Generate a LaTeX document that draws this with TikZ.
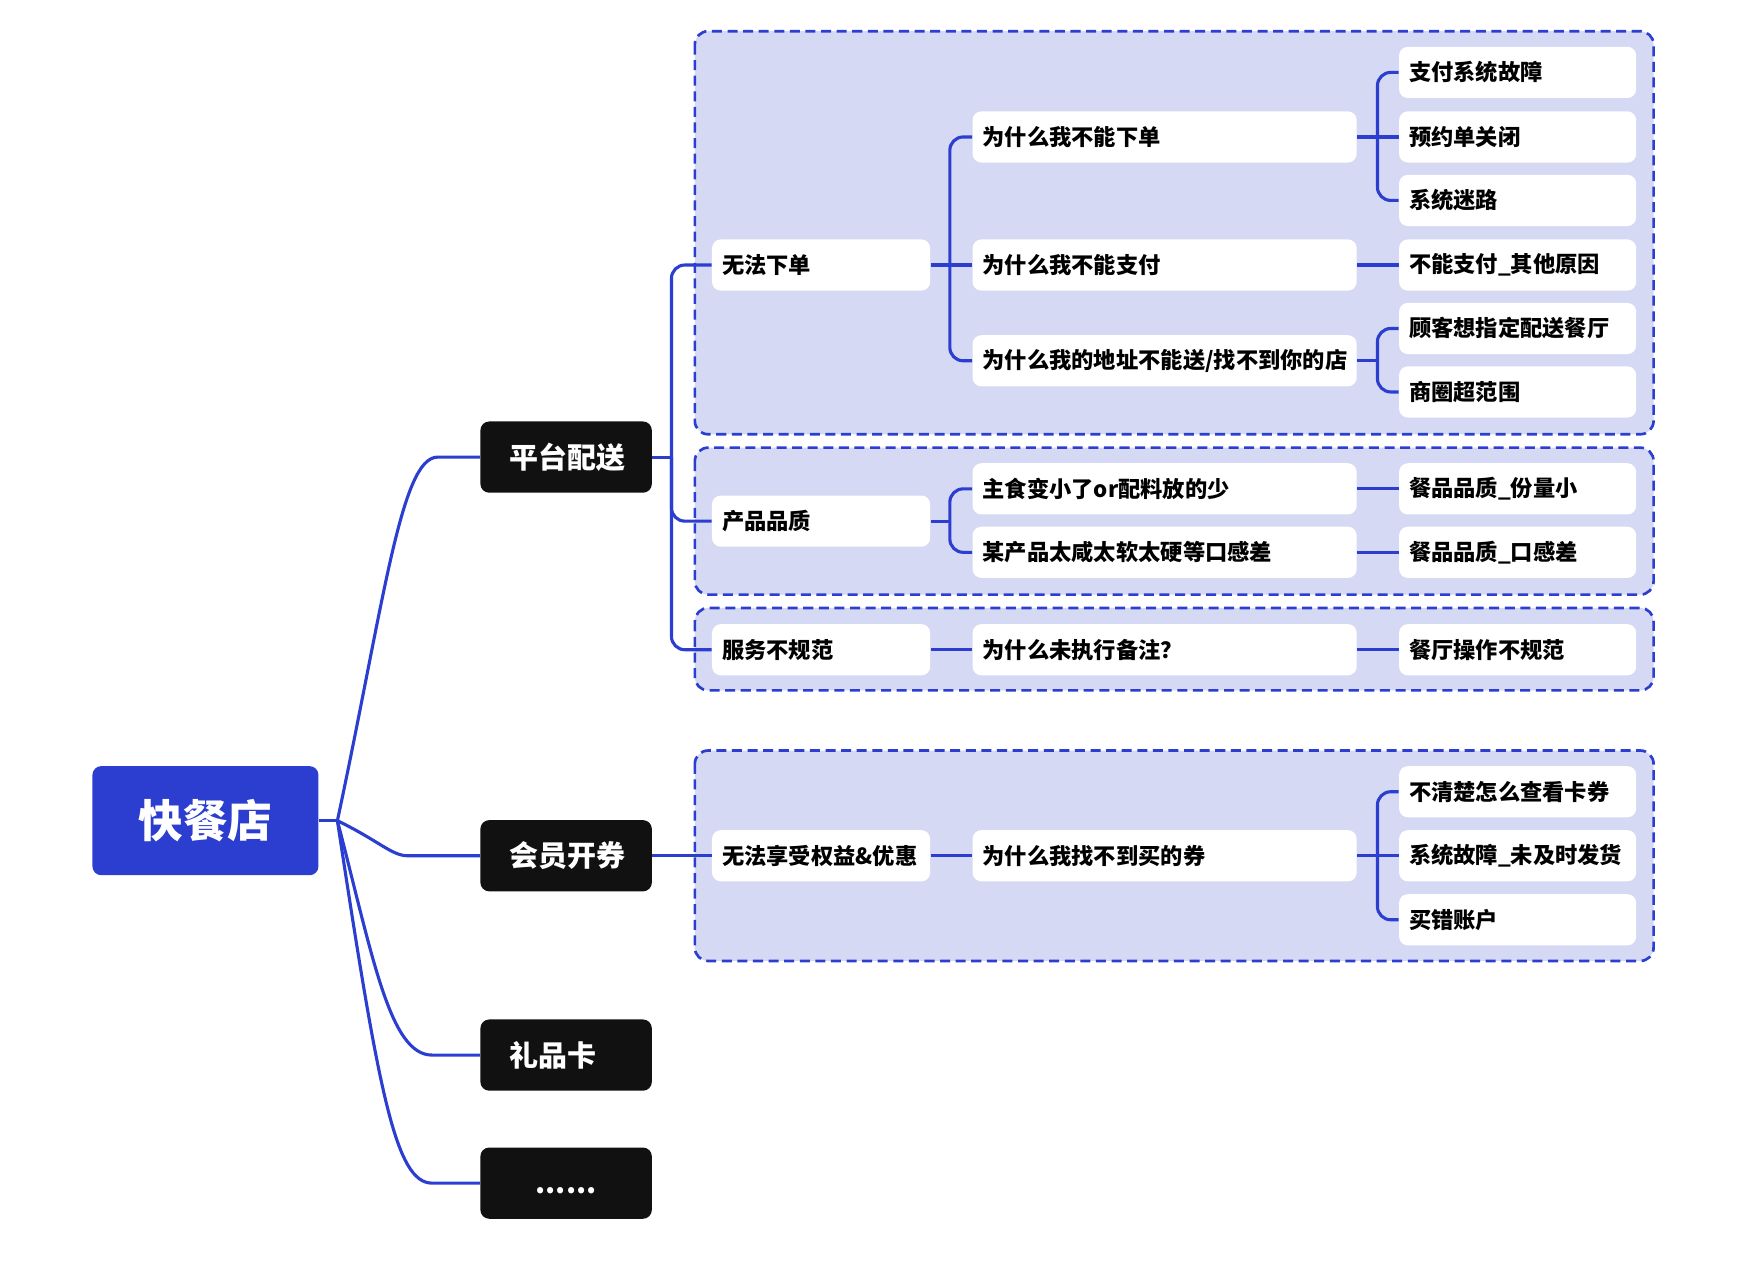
\documentclass[tikz,border=0pt]{standalone}
\usepackage{fontspec}
\setmainfont{Noto Sans CJK SC}[BoldFont={Noto Sans CJK SC Black}]
\usetikzlibrary{positioning}
\definecolor{mapblue}{RGB}{43,62,208}
\definecolor{mapblack}{RGB}{17,17,17}
\definecolor{grpfill}{RGB}{213,217,244}

\begin{document}
\begin{tikzpicture}[x=0.5pt,y=-0.5pt,
      rootbox/.style={fill=mapblue,rounded corners=4pt,text=white,minimum width=101.5pt,
                  minimum height=49pt,font=\bfseries\fontsize{20}{24}\selectfont},
      catbox/.style={fill=mapblack,rounded corners=4pt,text=white,anchor=west,inner xsep=13pt,
                  text width=51pt,minimum height=32pt,align=left,font=\bfseries\fontsize{13}{16}\selectfont},
      itembox/.style={fill=white,rounded corners=4pt,anchor=west,inner xsep=4.5pt,
                  minimum height=23pt,align=left,font=\bfseries\fontsize{10}{12}\selectfont},
      lvtwo/.style={itembox,text width=89pt},
      lvthree/.style={itembox,text width=163.5pt},
      lvfour/.style={itembox,text width=97.5pt},
      grp/.style={draw=mapblue,fill=grpfill,line width=1.2pt,dash pattern=on 4.5pt off 2.5pt,rounded corners=6pt},
      ln/.style={draw=mapblue,line width=1.4pt,rounded corners=6pt}]
    \useasboundingbox (0,0) rectangle (1568,1141);
    % dashed groups
    \draw[grp] (624,28) rectangle (1485,390);
    \draw[grp] (624,402) rectangle (1485,534);
    \draw[grp] (624,546) rectangle (1485,620);
    \draw[grp] (624,674) rectangle (1485,863);
    % root and categories
    \node[rootbox] (shop) at (184.5,737) {快餐店};
    \node[catbox] (plat) at (431,410.5) {平台配送};
    \node[catbox] (vip) at (431,768.5) {会员开券};
    \node[catbox] (gift) at (431,947.5) {礼品卡};
    \node[catbox,align=center] (more) at (431,1062.5) {\vphantom{平}......};
    % problems
    \node[lvtwo] (noord) at (639,238) {无法下单};
    \node[lvtwo] (qual) at (639,468) {产品品质};
    \node[lvtwo] (serv) at (639,583.5) {服务不规范};
    \node[lvtwo] (coupon) at (639,768.5) {无法享受权益\&优惠};
    % questions
    \node[lvthree] (whyord) at (873,123) {为什么我不能下单};
    \node[lvthree] (whypay) at (873,238) {为什么我不能支付};
    \node[lvthree] (whyaddr) at (873,324) {为什么我的地址不能送/找不到你的店};
    \node[lvthree] (smaller) at (873,439) {主食变小了or配料放的少};
    \node[lvthree] (taste) at (873,496) {某产品太咸太软太硬等口感差};
    \node[lvthree] (whynote) at (873,583.5) {为什么未执行备注？};
    \node[lvthree] (whycoupon) at (873,768.5) {为什么我找不到买的券};
    % causes
    \node[lvfour] (paysys) at (1256,65) {支付系统故障};
    \node[lvfour] (preclose) at (1256,123) {预约单关闭};
    \node[lvfour] (lost) at (1256,180) {系统迷路};
    \node[lvfour] (payother) at (1256,238) {不能支付\_其他原因};
    \node[lvfour] (pickstore) at (1256,295) {顾客想指定配送餐厅};
    \node[lvfour] (outrange) at (1256,352) {商圈超范围};
    \node[lvfour] (portion) at (1256,439) {餐品品质\_份量小};
    \node[lvfour] (mouth) at (1256,496) {餐品品质\_口感差};
    \node[lvfour] (kitchen) at (1256,583.5) {餐厅操作不规范};
    \node[lvfour] (howview) at (1256,711) {不清楚怎么查看卡券};
    \node[lvfour] (nodeliver) at (1256,768.5) {系统故障\_未及时发货};
    \node[lvfour] (wrongacct) at (1256,826) {买错账户};
    % junctions
    \coordinate (jshop) at (303,737);
    \coordinate (jplat) at (603,410.5);
    \coordinate (jnoord) at (853,238);
    \coordinate (jqual) at (853,468);
    \coordinate (jwhyord) at (1237,123);
    \coordinate (jwhyaddr) at (1237,324);
    \coordinate (jwhycoupon) at (1237,768.5);
    % root branches
    \draw[ln] (shop.east) -- (jshop);
    \draw[ln] (jshop) .. controls (345,540) and (360,410.5) .. (405,410.5) -- (plat.west);
    \draw[ln] (jshop) .. controls (340,755) and (352,768.5) .. (378,768.5) -- (vip.west);
    \draw[ln] (jshop) .. controls (335,860) and (350,947.5) .. (400,947.5) -- (gift.west);
    \draw[ln] (jshop) .. controls (340,980) and (355,1062.5) .. (400,1062.5) -- (more.west);
    % platform delivery
    \draw[ln] (plat.east) -- (jplat);
    \draw[ln] (jplat) |- (noord.west);
    \draw[ln] (jplat) |- (qual.west);
    \draw[ln] (jplat) |- (serv.west);
    \draw[ln] (noord.east) -- (jnoord);
    \draw[ln] (jnoord) |- (whyord.west);
    \draw[ln] (jnoord) -- (whypay.west);
    \draw[ln] (jnoord) |- (whyaddr.west);
    \draw[ln] (whyord.east) -- (jwhyord);
    \draw[ln] (jwhyord) |- (paysys.west);
    \draw[ln] (jwhyord) -- (preclose.west);
    \draw[ln] (jwhyord) |- (lost.west);
    \draw[ln] (whypay) -- (payother);
    \draw[ln] (whyaddr.east) -- (jwhyaddr);
    \draw[ln] (jwhyaddr) |- (pickstore.west);
    \draw[ln] (jwhyaddr) |- (outrange.west);
    \draw[ln] (qual.east) -- (jqual);
    \draw[ln] (jqual) |- (smaller.west);
    \draw[ln] (jqual) |- (taste.west);
    \draw[ln] (smaller) -- (portion);
    \draw[ln] (taste) -- (mouth);
    \draw[ln] (serv) -- (whynote);
    \draw[ln] (whynote) -- (kitchen);
    % membership
    \draw[ln] (vip) -- (coupon);
    \draw[ln] (coupon) -- (whycoupon);
    \draw[ln] (whycoupon.east) -- (jwhycoupon);
    \draw[ln] (jwhycoupon) |- (howview.west);
    \draw[ln] (jwhycoupon) -- (nodeliver.west);
    \draw[ln] (jwhycoupon) |- (wrongacct.west);
  \end{tikzpicture}
\end{document}
